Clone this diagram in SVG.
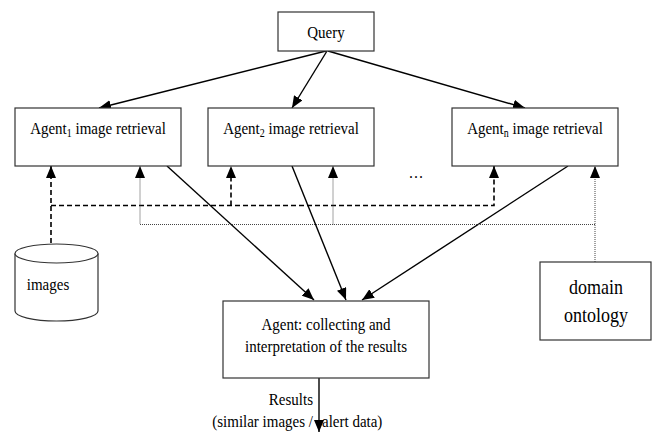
<svg xmlns="http://www.w3.org/2000/svg" width="654" height="432" viewBox="0 0 654 432" font-family="'Liberation Serif', Tinos, 'Times New Roman', 'DejaVu Serif', serif">
  <defs>
    <marker id="head" markerUnits="userSpaceOnUse" markerWidth="12" markerHeight="10" viewBox="0 0 12 10" refX="12" refY="5" orient="auto">
      <path d="M0,0 L12,5 L0,10 Z" fill="#000"/>
    </marker>
    <style>
      .box { fill: #fff; stroke: #333; stroke-width: 1.2; }
      .lbl { font-size: 15px; fill: #000; text-anchor: middle; }
      .big { font-size: 18px; }
      .solid { fill: none; stroke: #000; stroke-width: 1.4; }
      .dash { fill: none; stroke: #000; stroke-width: 1.6; stroke-dasharray: 5 3; }
      .dot { fill: none; stroke: #444; stroke-width: 1; stroke-dasharray: 1 1; }
    </style>
  </defs>
  <rect width="654" height="432" fill="#fff"/>

  <g id="connectors">
    <!-- query fan-out -->
    <path class="solid" d="M326,51 L99,108" marker-end="url(#head)"/>
    <path class="solid" d="M327,51 L292,108" marker-end="url(#head)"/>
    <path class="solid" d="M328,51 L525,108" marker-end="url(#head)"/>
    <!-- agents to collector -->
    <path class="solid" d="M167,166 L314,300" marker-end="url(#head)"/>
    <path class="solid" d="M292,166 L346,300" marker-end="url(#head)"/>
    <path class="solid" d="M568,166 L362,300" marker-end="url(#head)"/>
    <!-- results out -->
    <path class="solid" d="M319,378 L319,432" marker-end="url(#head)"/>
    <!-- image store bus -->
    <path class="dash" d="M51,243 V166" marker-end="url(#head)"/>
    <path class="dash" d="M51,205.5 H494 V166" marker-end="url(#head)"/>
    <path class="dash" d="M231,205.5 V166" marker-end="url(#head)"/>
    <!-- ontology bus -->
    <path class="dot" d="M595,262 V166" marker-end="url(#head)"/>
    <path class="dot" d="M595,224.5 H140 V166" marker-end="url(#head)"/>
    <path class="dot" d="M333,224.5 V166" marker-end="url(#head)"/>
  </g>

  <g id="query">
    <rect class="box" x="278" y="12" width="96" height="39"/>
    <text class="lbl" transform="translate(326,38) scale(1,1.15)">Query</text>
  </g>

  <g id="agent1">
    <rect class="box" x="15" y="108" width="166" height="58"/>
    <text class="lbl" transform="translate(98,134) scale(1,1.15)">Agent<tspan font-size="10" dy="3">1</tspan><tspan dy="-3"> image retrieval</tspan></text>
  </g>

  <g id="agent2">
    <rect class="box" x="208" y="108" width="166" height="58"/>
    <text class="lbl" transform="translate(291,134) scale(1,1.15)">Agent<tspan font-size="10" dy="3">2</tspan><tspan dy="-3"> image retrieval</tspan></text>
  </g>

  <g id="agentn">
    <rect class="box" x="452" y="108" width="166" height="58"/>
    <text class="lbl" transform="translate(535,134) scale(1,1.15)">Agent<tspan font-size="10" dy="3">n</tspan><tspan dy="-3"> image retrieval</tspan></text>
  </g>

  <g id="ellipsis">
    <text class="lbl" transform="translate(416,178) scale(1,1.15)">…</text>
  </g>

  <g id="images">
    <path class="box" d="M15,253.5 V311 A41.5,10 0 0 0 98,311 V253.5"/>
    <ellipse class="box" cx="56.5" cy="253.5" rx="41.5" ry="9.5"/>
    <text class="lbl" transform="translate(48,290) scale(1,1.15)">images</text>
  </g>

  <g id="collector">
    <rect class="box" x="223" y="301" width="206" height="77"/>
    <text class="lbl" transform="translate(326,330) scale(1,1.15)">Agent: collecting and</text>
    <text class="lbl" transform="translate(326,352) scale(1,1.15)">interpretation of the results</text>
  </g>

  <g id="ontology">
    <rect class="box" x="540" y="262" width="111" height="78"/>
    <text class="lbl big" transform="translate(596,294) scale(1,1.15)">domain</text>
    <text class="lbl big" transform="translate(596,322) scale(1,1.15)">ontology</text>
  </g>

  <g id="results-label">
    <text class="lbl" style="text-anchor:end" transform="translate(313,405) scale(1,1.15)">Results</text>
    <text class="lbl" style="text-anchor:end" transform="translate(313,427) scale(1,1.15)">(similar images /</text>
    <text class="lbl" style="text-anchor:start" transform="translate(322,427) scale(1,1.15)">alert data)</text>
  </g>
</svg>
